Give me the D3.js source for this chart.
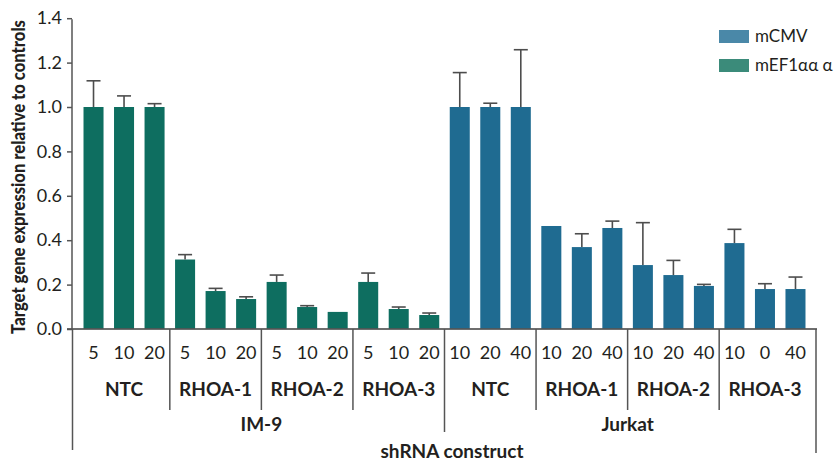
<!DOCTYPE html>
<html><head><meta charset="utf-8">
<script src="https://cdn.jsdelivr.net/npm/d3@7"></script>
<style>body{margin:0;background:#fff}text{font-family:Lato,"Open Sans",sans-serif;fill:#231f20}</style>
</head><body><svg id="c" width="838" height="462"></svg>
<script>
const cellLines = ["IM-9", "Jurkat"];
const constructs = ["NTC", "RHOA-1", "RHOA-2", "RHOA-3"];
const doses = {
  "IM-9": [["5","10","20"],["5","10","20"],["5","10","20"],["5","10","20"]],
  "Jurkat": [["10","20","40"],["10","20","40"],["10","20","40"],["10","0","40"]]
};
const values = {
  "IM-9":   [1.0, 1.0, 1.0, 0.313, 0.171, 0.135, 0.212, 0.099, 0.077, 0.212, 0.090, 0.063],
  "Jurkat": [1.0, 1.0, 1.0, 0.464, 0.369, 0.455, 0.288, 0.243, 0.194, 0.387, 0.180, 0.180]
};
const errors = {
  "IM-9":   [0.118, 0.050, 0.015, 0.022, 0.012, 0.010, 0.031, 0.006, 0, 0.040, 0.009, 0.009],
  "Jurkat": [0.155, 0.017, 0.258, 0, 0.060, 0.031, 0.191, 0.066, 0.007, 0.062, 0.024, 0.054]
};
const yTicks = [0.0, 0.2, 0.4, 0.6, 0.8, 1.0, 1.2, 1.4];
const legendLabels = ["mCMV", "mEF1αα α"];
const barColors = {"IM-9": "#0e6e60", "Jurkat": "#1f6b91"};
const legendColors = ["#4a88a8", "#3b8b7a"];

const rows = [];
cellLines.forEach(cl => constructs.forEach((c, gi) => doses[cl][gi].forEach((d, di) => {
  const i = gi * 3 + di;
  rows.push({id: cl + "|" + c + "|" + di, cl, c, d, v: values[cl][i], e: errors[cl][i]});
})));

const svg = d3.select("#c");
const x0 = 72, x1 = 817, yBase = 329;
const x = d3.scaleBand().domain(rows.map(r => r.id)).range([x0, x1]).paddingInner(0.344).paddingOuter(0.377);
const y = d3.scaleLinear().domain([0, 1.4]).range([yBase, 18.2]);

// bars
svg.append("g").selectAll("rect").data(rows).join("rect")
  .attr("x", r => x(r.id)).attr("width", x.bandwidth())
  .attr("y", r => y(r.v)).attr("height", r => y(0) - y(r.v))
  .attr("fill", r => barColors[r.cl]);

// error bars
const eg = svg.append("g").attr("stroke", "#4d4d4d").attr("stroke-width", 1.6);
rows.filter(r => r.e > 0).forEach(r => {
  const cx = x(r.id) + x.bandwidth() / 2;
  eg.append("line").attr("x1", cx).attr("x2", cx).attr("y1", y(r.v)).attr("y2", y(r.v + r.e));
  eg.append("line").attr("x1", cx - 7).attr("x2", cx + 7).attr("y1", y(r.v + r.e)).attr("y2", y(r.v + r.e));
});

// y axis
const ya = svg.append("g").attr("transform", `translate(${x0},0)`)
  .call(d3.axisLeft(y).tickValues(yTicks).tickFormat(d3.format(".1f")).tickSize(5).tickPadding(5));
ya.select(".domain").attr("stroke", "#555").attr("stroke-width", 1.5).attr("d", `M0,${y(1.4)+1}V${yBase}`);
ya.selectAll(".tick line").attr("stroke", "#555").attr("stroke-width", 1.5);
ya.selectAll(".tick text").style("font-size", "18px").style("fill", "#231f20").attr("font-family", null);

// x axis baseline
svg.append("line").attr("x1", x0 - 5).attr("x2", x1).attr("y1", yBase).attr("y2", yBase)
  .attr("stroke", "#555").attr("stroke-width", 2).attr("stroke-opacity", 0.85);

// dose labels
svg.append("g").selectAll("text").data(rows).join("text")
  .attr("x", r => x(r.id) + x.bandwidth() / 2).attr("y", 359)
  .attr("text-anchor", "middle").style("font-size", "18px").text(r => r.d);

const sep = svg.append("g").attr("stroke", "#555").attr("stroke-width", 1.5);
const step = x.step();
cellLines.forEach((cl, ci) => {
  constructs.forEach((c, gi) => {
    const ids = rows.filter(r => r.cl === cl && r.c === c).map(r => r.id);
    const left = x(ids[0]) - (x.step() - x.bandwidth()) / 2;
    const right = x(ids[2]) + x.bandwidth() + (x.step() - x.bandwidth()) / 2;
    svg.append("text").attr("x", (left + right) / 2).attr("y", 396).attr("text-anchor", "middle")
      .style("font-size", "19px").style("font-weight", "bold").text(c);
    if (gi > 0) sep.append("line").attr("x1", left).attr("x2", left).attr("y1", yBase).attr("y2", 410);
  });
  const ids = rows.filter(r => r.cl === cl).map(r => r.id);
  const left = x(ids[0]) - (step - x.bandwidth()) / 2;
  const right = x(ids[ids.length - 1]) + x.bandwidth() + (step - x.bandwidth()) / 2;
  svg.append("text").attr("x", (left + right) / 2).attr("y", 431).attr("text-anchor", "middle")
    .style("font-size", "19px").style("font-weight", "bold").text(cl);
  if (ci > 0) sep.append("line").attr("x1", left).attr("x2", left).attr("y1", yBase).attr("y2", 432);
});
sep.append("line").attr("x1", x0 + 0.5).attr("x2", x0 + 0.5).attr("y1", yBase).attr("y2", 450);
sep.append("line").attr("x1", x1 - 1).attr("x2", x1 - 1).attr("y1", yBase).attr("y2", 453);

svg.append("text").attr("x", 452).attr("y", 458).attr("text-anchor", "middle")
  .style("font-size", "19px").style("font-weight", "bold").text("shRNA construct");

const yl = svg.append("text").attr("text-anchor", "middle")
  .style("font-size", "19px").style("font-weight", "900").text("Target gene expression relative to controls");
const natural = yl.node().getComputedTextLength();
const sx = Math.min(1, 314 / natural);
yl.attr("transform", `translate(25,177) rotate(-90) scale(${sx},1)`);

// legend
const lg = svg.append("g");
legendLabels.forEach((l, i) => {
  lg.append("rect").attr("x", 719).attr("y", 30 + i * 29).attr("width", 30).attr("height", 13).attr("fill", legendColors[i]);
  lg.append("text").attr("x", 755).attr("y", 42 + i * 29).style("font-size", "17px").text(l);
});
</script></body></html>
